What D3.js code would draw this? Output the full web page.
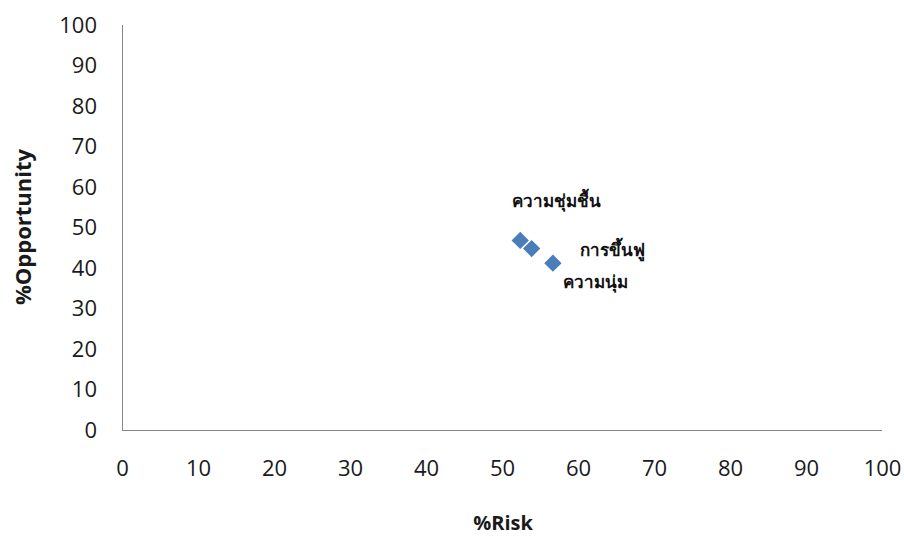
<!DOCTYPE html>
<html><head><meta charset="utf-8">
<script src="https://cdn.jsdelivr.net/npm/d3@7"></script>
<style>
body{margin:0;background:#fff;}
svg{display:block;}
</style></head>
<body>
<svg id="c" width="904" height="536"></svg>
<script>
const names = ["ความชุ่มชื้น", "การขึ้นฟู", "ความนุ่ม"];
const riskValues = [52.4, 53.9, 56.7];
const opportunityValues = [46.8, 44.8, 41.2];
const xTicks = [0,10,20,30,40,50,60,70,80,90,100];
const yTicks = [0,10,20,30,40,50,60,70,80,90,100];
const labelOffsets = [[-8,-33],[48,7],[10,25]];

const svg = d3.select("#c");
const x = d3.scaleLinear().domain([0,100]).range([122,882]);
const y = d3.scaleLinear().domain([0,100]).range([430,25]);
const font = "'Open Sans', sans-serif";
const axisColor = "#868686";

// axis lines
svg.append("line").attr("x1",x(0)).attr("x2",x(0)).attr("y1",y(100)).attr("y2",y(0))
  .attr("stroke",axisColor).attr("stroke-width",1).attr("shape-rendering","crispEdges");
svg.append("line").attr("x1",x(0)).attr("x2",x(100)).attr("y1",y(0)).attr("y2",y(0))
  .attr("stroke",axisColor).attr("stroke-width",1).attr("shape-rendering","crispEdges");

const yAxis = d3.axisLeft(y).tickValues(yTicks).tickSize(0).tickPadding(25);
const gy = svg.append("g").attr("transform",`translate(${x(0)},0)`).call(yAxis);
gy.select(".domain").remove();
gy.selectAll("text").attr("font-family",font).attr("font-size",22).attr("fill","#1a1a1a");

const xAxis = d3.axisBottom(x).tickValues(xTicks).tickSize(0).tickPadding(30);
const gx = svg.append("g").attr("transform",`translate(0,${y(0)})`).call(xAxis);
gx.select(".domain").remove();
gx.selectAll("text").attr("font-family",font).attr("font-size",22).attr("fill","#1a1a1a");

// axis titles
svg.append("text").attr("x",503).attr("y",530).attr("text-anchor","middle")
  .attr("font-family",font).attr("font-weight","bold").attr("font-size",20).attr("fill","#1a1a1a").text("%Risk");
svg.append("text").attr("transform","translate(31,227) rotate(-90)").attr("text-anchor","middle")
  .attr("font-family",font).attr("font-weight","bold").attr("font-size",22).attr("fill","#1a1a1a").text("%Opportunity");

const data = names.map((n,i)=>({name:n, rx:riskValues[i], oy:opportunityValues[i], off:labelOffsets[i]}));
const sym = d3.symbol().type(d3.symbolSquare).size(150);
svg.append("g").selectAll("path").data(data).join("path")
  .attr("transform",d=>`translate(${x(d.rx)},${y(d.oy)}) rotate(45)`)
  .attr("d",sym).attr("fill","#4a7ebb");

svg.append("g").selectAll("text").data(data).join("text")
  .attr("x",d=>x(d.rx)+d.off[0]).attr("y",d=>y(d.oy)+d.off[1])
  .attr("font-family","'Noto Sans', 'DejaVu Sans', sans-serif").attr("font-weight","bold").attr("font-size",17).attr("fill","#111")
  .text(d=>d.name);
</script>
</body></html>
